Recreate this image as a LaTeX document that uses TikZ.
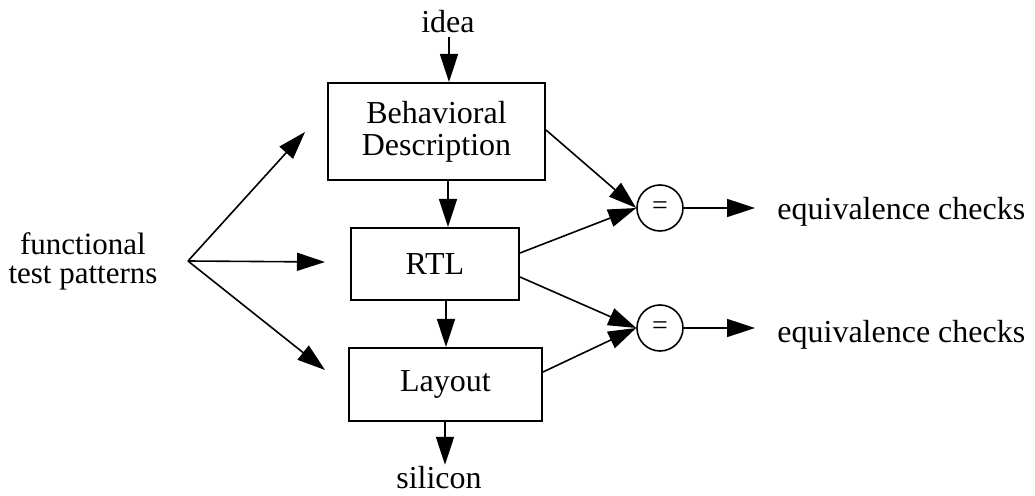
\documentclass[tikz,border=0pt]{standalone}
\usepackage{fontspec}
\setmainfont{Liberation Serif}
\usetikzlibrary{arrows.meta}
\begin{document}
\begin{tikzpicture}[x=0.5pt,y=-0.5pt,
  box/.style={draw,line width=1pt,inner sep=0pt,align=center,
    font=\fontsize{16}{16}\selectfont},
  lbl/.style={font=\fontsize{16}{16}\selectfont,inner sep=0pt},
  eq/.style={draw,circle,line width=0.8pt,minimum size=23pt,inner sep=0pt,
    font=\fontsize{14}{14}\selectfont},
  arr/.style={line width=0.8pt,-{Triangle[length=14pt,width=9pt]}},
  ln/.style={line width=0.8pt}]
\useasboundingbox (0,0) rectangle (1035,496);

% design flow boxes
\node[box,minimum width=108.5pt,minimum height=48.5pt] (beh) at (436.5,131.5)
  {Behavioral\\Description};
\node[box,minimum width=84pt,minimum height=36pt] (rtl) at (435,264) {RTL};
\node[box,minimum width=96.5pt,minimum height=36.5pt] (lay) at (445.5,384.5) {Layout};

% input and output labels
\node[lbl,anchor=base,outer sep=2pt] (idea) at (448,33) {idea};
\node[lbl,anchor=base,outer sep=1pt] (sil) at (439,489) {silicon};
\node[lbl,align=center,font=\fontsize{15.5}{14.5}\selectfont] (ftp) at (83,261)
  {functional\\test patterns};

% equivalence comparators
\node[eq] (c1) at (660,208) {=};
\node[eq] (c2) at (660,328) {=};
\node[lbl,anchor=base west] (e1) at (777,220) {equivalence checks};
\node[lbl,anchor=base west] (e2) at (777,343) {equivalence checks};

% vertical flow
\draw[arr] (idea.south -| 449,0) -- (beh.north -| 449,0);
\draw[arr] (beh.south -| 448,0) -- (rtl.north -| 448,0);
\draw[arr] (rtl.south -| 446,0) -- (lay.north -| 446,0);
\draw[arr] (lay.south -| 445,0) -- (sil.north -| 445,0);

% functional test patterns fan-out
\coordinate (fork) at (188,261);
\coordinate (t1) at (305,132);
\coordinate (t2) at (325,262);
\coordinate (t3) at (325,370);
\draw[arr] (fork) -- (t1);
\draw[arr] (fork) -- (t2);
\draw[arr] (fork) -- (t3);

% comparisons between levels
\draw[arr] ([yshift=0.75pt]beh.east) -- (c1.west);
\draw[arr] ([yshift=5.5pt]rtl.east) -- (c1.west);
\draw[arr] ([yshift=-6.5pt]rtl.east) -- (c2.west);
\draw[arr] ([yshift=6.25pt]lay.east) -- (c2.west);

% results
\coordinate (o1) at (755,208);
\coordinate (o2) at (755,328);
\draw[arr] (c1.east) -- (o1);
\draw[arr] (c2.east) -- (o2);
\end{tikzpicture}
\end{document}
